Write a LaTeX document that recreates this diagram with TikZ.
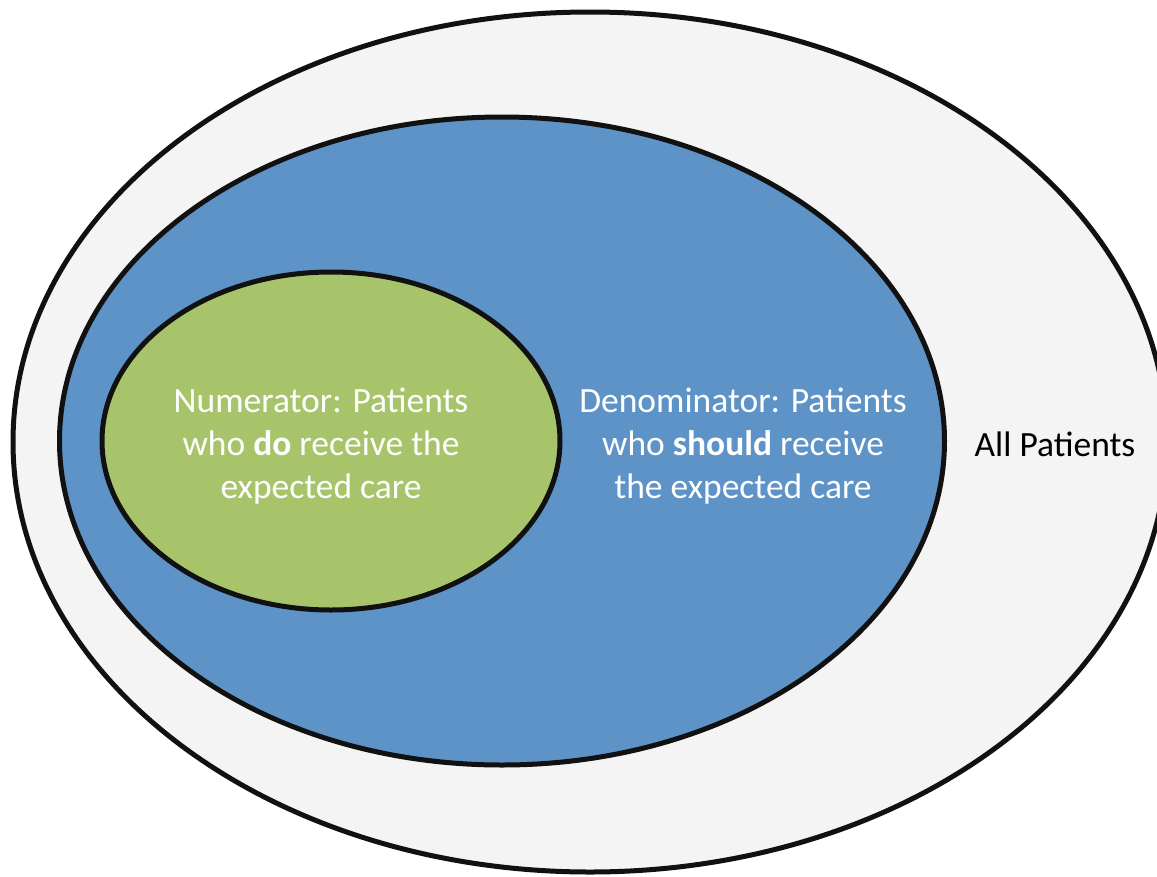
\documentclass[tikz,border=0pt]{standalone}
\usepackage{fontspec}
\setmainfont{Carlito}
\usetikzlibrary{shapes.geometric}
\definecolor{outerfill}{HTML}{F4F4F4}
\definecolor{bluefill}{HTML}{5E93C7}
\definecolor{greenfill}{HTML}{A8C46B}
\definecolor{rim}{HTML}{111111}
\tikzset{
  setcircle/.style={ellipse, draw=rim, line width=5pt, inner sep=0pt, outer sep=0pt},
  lbl/.style={align=center, font=\fontsize{35.5}{43}\selectfont, inner sep=0pt}
}
\begin{document}
\begin{tikzpicture}[x=1pt,y=-1pt]
\useasboundingbox (0,0) rectangle (1157,876);
\clip (0,0) rectangle (1157,876);
\fill[white] (0,0) rectangle (1157,876);
\node[setcircle, fill=outerfill, minimum width=1154pt, minimum height=860pt] (outer) at (590,442) {};
\node[setcircle, fill=bluefill, minimum width=885pt, minimum height=648pt] (blue) at (502,441) {};
\node[setcircle, fill=greenfill, minimum width=458pt, minimum height=338pt] (green) at (331,441) {};
\node[lbl, text=white] (num) at (321,446) {Numerator: Patients\\who \textbf{do} receive the\\expected care};
\node[lbl, text=white] (den) at (743,446) {Denominator: Patients\\who \textbf{should} receive\\the expected care};
\node[lbl, text=black] (all) at (1055,444) {All Patients};
\end{tikzpicture}
\end{document}
